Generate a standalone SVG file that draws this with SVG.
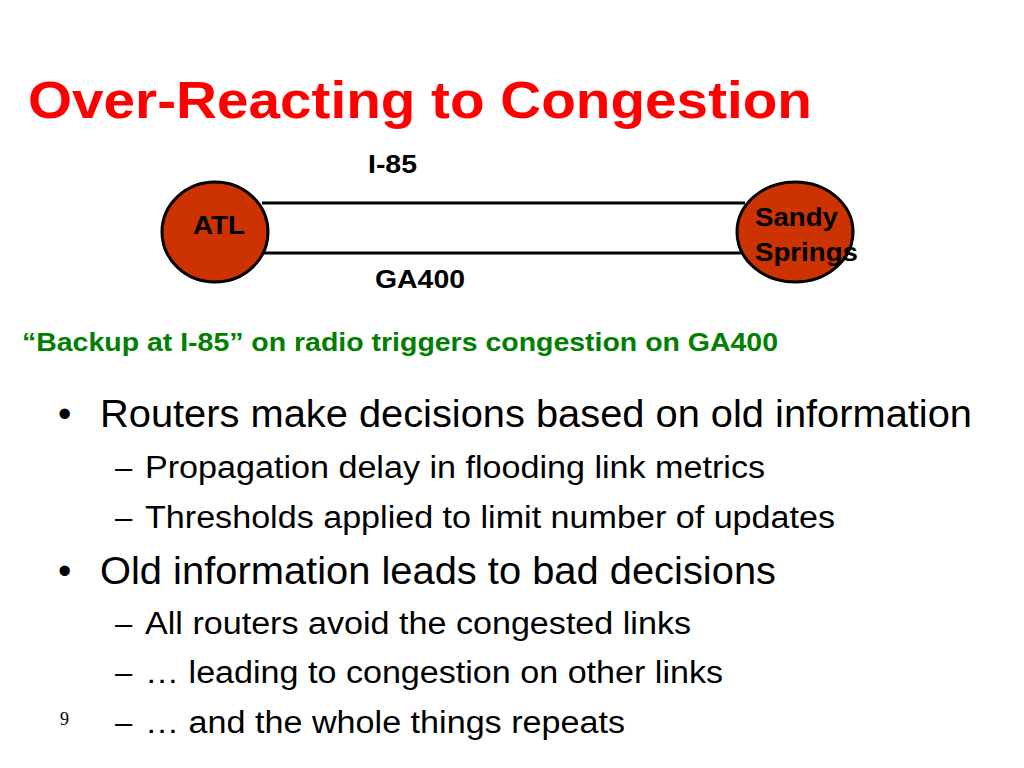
<svg xmlns="http://www.w3.org/2000/svg" width="1024" height="768" viewBox="0 0 1024 768">
<style>
.n{fill:#cc3300;stroke:#000;stroke-width:3}
.b{font-family:"Liberation Sans",Arial,sans-serif;font-weight:bold;font-size:26px;fill:#000}
.t{font-family:"Liberation Sans",Arial,sans-serif;fill:#000}
.g{font-family:"Liberation Sans",Arial,sans-serif;font-weight:bold;font-size:26px;fill:#008000}
</style>
<rect width="1024" height="768" fill="#fff"/>
<text x="28" y="118" font-family="Liberation Sans,Arial,sans-serif" font-weight="bold" font-size="52" fill="#ff0000" textLength="784" lengthAdjust="spacingAndGlyphs">Over-Reacting to Congestion</text>
<g id="connectors" stroke="#000" stroke-width="3">
<line x1="262" y1="203" x2="745" y2="203"/>
<line x1="262" y1="253" x2="745" y2="253"/>
</g>
<g id="atl"><ellipse class="n" cx="215" cy="232" rx="53" ry="50"/><text class="b" x="193" y="234" textLength="52" lengthAdjust="spacingAndGlyphs">ATL</text></g>
<g id="sandy"><ellipse class="n" cx="795" cy="232" rx="58" ry="50"/><text class="b" x="755" y="226" textLength="83" lengthAdjust="spacingAndGlyphs">Sandy</text><text class="b" x="755" y="261" textLength="103" lengthAdjust="spacingAndGlyphs">Springs</text></g>
<text class="b" x="368" y="173" textLength="49" lengthAdjust="spacingAndGlyphs">I-85</text>
<text class="b" x="375" y="288" textLength="90" lengthAdjust="spacingAndGlyphs">GA400</text>
<text class="g" x="22" y="351" textLength="756" lengthAdjust="spacingAndGlyphs">“Backup at I-85” on radio triggers congestion on GA400</text>
<g class="t">
<text x="58" y="427" font-size="38">•</text>
<text x="100" y="427" font-size="38" textLength="872" lengthAdjust="spacingAndGlyphs">Routers make decisions based on old information</text>
<text x="115" y="478" font-size="31">–</text>
<text x="145" y="478" font-size="31" textLength="620" lengthAdjust="spacingAndGlyphs">Propagation delay in flooding link metrics</text>
<text x="115" y="528" font-size="31">–</text>
<text x="145" y="528" font-size="31" textLength="690" lengthAdjust="spacingAndGlyphs">Thresholds applied to limit number of updates</text>
<text x="58" y="584" font-size="38">•</text>
<text x="100" y="584" font-size="38" textLength="676" lengthAdjust="spacingAndGlyphs">Old information leads to bad decisions</text>
<text x="115" y="634" font-size="31">–</text>
<text x="145" y="634" font-size="31" textLength="546" lengthAdjust="spacingAndGlyphs">All routers avoid the congested links</text>
<text x="115" y="683" font-size="31">–</text>
<text x="145" y="683" font-size="31" textLength="578" lengthAdjust="spacingAndGlyphs">… leading to congestion on other links</text>
<text x="115" y="733" font-size="31">–</text>
<text x="145" y="733" font-size="31" textLength="480" lengthAdjust="spacingAndGlyphs">… and the whole things repeats</text>
<text x="60" y="725" font-size="18" font-family="Liberation Serif,serif">9</text>
</g>
</svg>
